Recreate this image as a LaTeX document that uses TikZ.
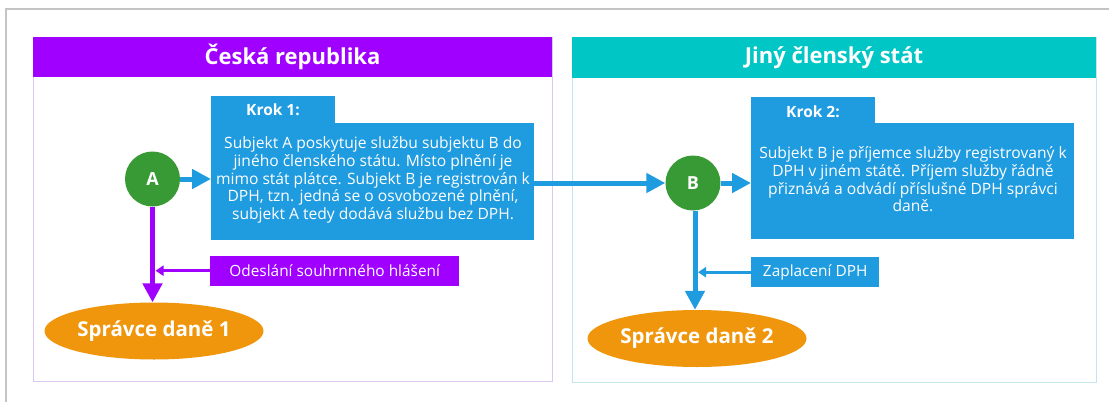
\documentclass[tikz,border=0pt]{standalone}
\usepackage{fontspec}
\setmainfont{Open Sans}
\usetikzlibrary{shapes.geometric,arrows.meta}
\definecolor{cpurple}{HTML}{A000FF}
\definecolor{cpurpleline}{HTML}{DCC6F2}
\definecolor{cteal}{HTML}{00C6C6}
\definecolor{ctealline}{HTML}{C2E6EA}
\definecolor{cblue}{HTML}{1F9BE0}
\definecolor{cgreen}{HTML}{379A34}
\definecolor{corange}{HTML}{F0960C}
\definecolor{cframe}{HTML}{C4C4C4}
\tikzset{
  hdrtext/.style={text=white,font=\fontsize{22}{25}\selectfont\bfseries},
  boxtext/.style={text=white,font=\fontsize{15.6}{17.6}\selectfont,align=center},
  krok/.style={text=white,font=\fontsize{15.5}{17}\selectfont\bfseries},
  subj/.style={ellipse,fill=cgreen,inner sep=0pt,minimum width=55pt,minimum height=55pt,text=white,font=\fontsize{18}{20}\selectfont\bfseries},
  urad/.style={ellipse,fill=corange,inner sep=0pt,minimum width=219pt,minimum height=57pt,text=white,font=\fontsize{20.5}{23}\selectfont\bfseries},
  lbl/.style={rectangle,inner sep=0pt,text=white,font=\fontsize{15.4}{17}\selectfont},
  bigarrow/.style={line width=5pt,-{Triangle[length=19pt,width=19pt]}},
  smallarrow/.style={line width=2.6pt,-{Triangle[length=8pt,width=10pt]}}
}
\begin{document}
\begin{tikzpicture}[x=1pt,y=-1pt]
\useasboundingbox (0,0) rectangle (1109,402);
\fill[white] (0,0) rectangle (1109,402);
% outer frame
\draw[cframe,line width=2pt] (6,402) -- (6,9) -- (1109,9);
% panels
\draw[cpurpleline,line width=1pt] (33,37) rectangle (552,381);
\fill[cpurple] (33,37) rectangle (552,77);
\node[hdrtext] (h1) at (292.5,57) {Česká republika};
\draw[ctealline,line width=1pt] (572,37) rectangle (1096,382);
\fill[cteal] (572,37) rectangle (1096,78);
\node[hdrtext] (h2) at (834,57.5) {Jiný členský stát};
% Krok 1 box
\fill[cblue] (211,96) rectangle (335,124);
\node[fill=cblue,minimum width=323pt,minimum height=117pt,inner sep=0pt,anchor=north west] (k1) at (211,123) {};
\node[krok] (k1t) at (273,110) {Krok 1:};
\node[boxtext] (k1x) at (373,180) {Subjekt A poskytuje službu subjektu B do\\jiného členského státu. Místo plnění je\\mimo stát plátce. Subjekt B je registrován k\\DPH, tzn. jedná se o osvobozené plnění,\\subjekt A tedy dodává službu bez DPH.};
% Krok 2 box
\fill[cblue] (751,97) rectangle (875,124);
\node[fill=cblue,minimum width=323pt,minimum height=116pt,inner sep=0pt,anchor=north west] (k2) at (751,123) {};
\node[krok] (k2t) at (813,112) {Krok 2:};
\node[boxtext] (k2x) at (913,179.5) {Subjekt B je příjemce služby registrovaný k\\DPH v jiném státě. Příjem služby řádně\\přiznává a odvádí příslušné DPH správci\\daně.};
% subjects
\node[subj] (A) at (152.5,179) {A};
\node[subj] (B) at (693,183) {B};
% tax offices
\node[urad] (S1) at (154,331) {Správce daně 1};
\node[urad] (S2) at (697,338.5) {Správce daně 2};
% labels
\node[lbl,fill=cpurple,minimum width=249pt,minimum height=30pt,anchor=north west] (od) at (210,255.5) {Odeslání souhrnného hlášení};
\node[lbl,fill=cblue,minimum width=128pt,minimum height=30pt,anchor=north west] (za) at (751,257) {Zaplacení DPH};
% helper coordinates
\coordinate (bs) at ([xshift=2pt]B.south);
\coordinate (aj) at ([xshift=3pt]A.south);
\coordinate (bj) at ([xshift=5pt]B.south);
% arrows
\draw[bigarrow,cblue] (A.east) -- (A.east -| k1.west);
\draw[bigarrow,cblue] (B -| k1.east) -- (B.west);
\draw[bigarrow,cblue] (B.east) -- (B.east -| k2.west);
\draw[bigarrow,cpurple] (A.south) -- (S1.north -| A.south);
\draw[bigarrow,cblue] (bs) -- (S2.north -| bs);
\draw[smallarrow,cpurple] (od.west) -- (od.west -| aj);
\draw[smallarrow,cblue] (za.west) -- (za.west -| bj);
\end{tikzpicture}
\end{document}
